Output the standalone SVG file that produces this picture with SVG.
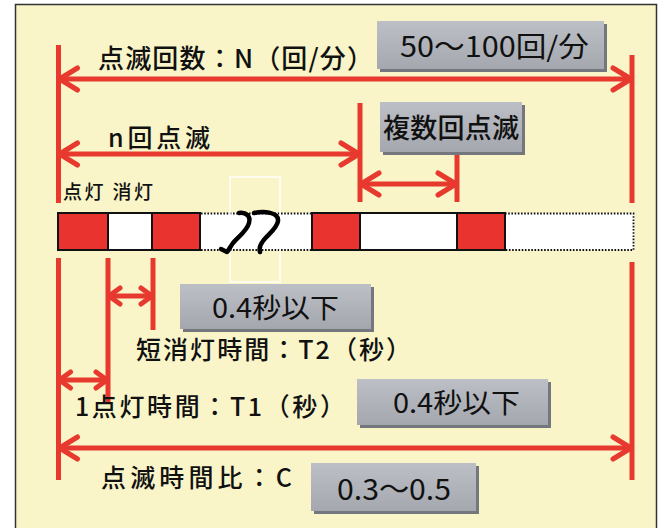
<svg xmlns="http://www.w3.org/2000/svg" width="661" height="528" viewBox="0 0 661 528">
<style>
.t{font-family:"Noto Sans CJK JP","Noto Sans",sans-serif;fill:#111;font-weight:500}
.bt{font-family:"Noto Sans CJK JP","Noto Sans",sans-serif;fill:#111;font-weight:400}
.red{stroke:#e8392f;stroke-width:5;fill:none}
.bx{fill:url(#gb)}
.sh{fill:#74777e}
.seg{stroke:#111;stroke-width:2}
.dot{stroke:#111;stroke-width:1.8;stroke-dasharray:1.6 1.6;fill:none}
.sq{fill:none;stroke:#000;stroke-width:4.5;stroke-linecap:round;stroke-linejoin:round}
</style>
<defs>
<linearGradient id="gb" x1="0" y1="0" x2="0" y2="1">
<stop offset="0" stop-color="#bcbfc5"/>
<stop offset="1" stop-color="#a4a7ae"/>
</linearGradient>
<marker id="ah" viewBox="-24 -14 26 28" refX="0" refY="0" markerWidth="26" markerHeight="28" markerUnits="userSpaceOnUse" orient="auto-start-reverse">
<path d="M-19,-11 L-1,0 L-19,11" fill="none" stroke="#e8392f" stroke-width="5" stroke-linecap="round" stroke-linejoin="round"/>
</marker>
<marker id="ahs" viewBox="-16 -11 18 22" refX="0" refY="0" markerWidth="18" markerHeight="22" markerUnits="userSpaceOnUse" orient="auto-start-reverse">
<path d="M-12,-8 L-1,0 L-12,8" fill="none" stroke="#e8392f" stroke-width="5" stroke-linecap="round" stroke-linejoin="round"/>
</marker>
</defs>
<rect x="0" y="0" width="661" height="528" fill="#ffffff"/>
<rect x="15.5" y="4.5" width="641" height="540" fill="#f9f5c9" stroke="#333" stroke-width="1.5"/>

<g id="bar">
<rect x="201" y="213" width="111" height="37" fill="#fff"/>
<path class="dot" d="M201,213.5 H312 M201,250 H312"/>
<rect x="505" y="213" width="129" height="37" fill="#fff"/>
<path class="dot" d="M505,213.5 H633.5 V250 H505"/>
<rect class="seg" x="58" y="213" width="50" height="37" fill="#e8332f"/>
<rect class="seg" x="108" y="213" width="44" height="37" fill="#fff"/>
<rect class="seg" x="152" y="213" width="48" height="37" fill="#e8332f"/>
<rect class="seg" x="312" y="213" width="48" height="37" fill="#e8332f"/>
<rect class="seg" x="360" y="213" width="97" height="37" fill="#fff"/>
<rect class="seg" x="457" y="213" width="48" height="37" fill="#e8332f"/>
<rect x="230" y="177" width="50" height="105" fill="none" stroke="#ffffff" stroke-width="1.5" opacity="0.9"/>
<path class="sq" d="M239,213 C246,212 251,216 249,223 C247,231 238,237 233,243 C230,247 229,250 227,252 C225,251 223,250 221,249"/>
<path class="sq" d="M254,213 C264,211 279,212 278,221 C277,229 267,235 263,241 C260,245 259,249 260,252"/>
</g>

<g id="connectors">
<path class="red" d="M58.5,45 V203 M58.5,258 V480"/>
<path class="red" d="M632,55 V203 M632,262 V480"/>
<path class="red" d="M360,103 V202"/>
<path class="red" d="M457,153 V202"/>
<path class="red" d="M108,258 V404"/>
<path class="red" d="M153,258 V330"/>
<line class="red" x1="58.5" y1="79" x2="632" y2="79" marker-start="url(#ah)" marker-end="url(#ah)"/>
<line class="red" x1="58.5" y1="154" x2="360" y2="154" marker-start="url(#ah)" marker-end="url(#ah)"/>
<line class="red" x1="360" y1="184" x2="457" y2="184" marker-start="url(#ah)" marker-end="url(#ah)"/>
<line class="red" x1="108" y1="296" x2="153" y2="296" marker-start="url(#ahs)" marker-end="url(#ahs)"/>
<line class="red" x1="58.5" y1="380" x2="108" y2="380" marker-start="url(#ahs)" marker-end="url(#ahs)"/>
<line class="red" x1="58.5" y1="448" x2="632" y2="448" marker-start="url(#ah)" marker-end="url(#ah)"/>
</g>

<g id="label-n-total">
<text class="t" x="98" y="68" font-size="26" textLength="275" lengthAdjust="spacing">点滅回数：N（回/分）</text>
</g>
<g id="box-rate">
<rect class="sh" x="380" y="24" width="227" height="48"/>
<rect class="bx" x="377" y="21" width="227" height="48"/>
<text class="bt" x="400" y="57" font-size="28" textLength="189" lengthAdjust="spacingAndGlyphs">50～100回/分</text>
</g>
<g id="label-n">
<text class="t" x="108" y="147" font-size="25" textLength="102" lengthAdjust="spacing">n回点滅</text>
</g>
<g id="box-multi">
<rect class="sh" x="383" y="105" width="142" height="50"/>
<rect class="bx" x="380" y="102" width="142" height="50"/>
<text class="t" x="383" y="138" font-size="27" textLength="136" lengthAdjust="spacing">複数回点滅</text>
</g>
<g id="label-onoff">
<text class="t" x="63" y="199" font-size="19" textLength="90" lengthAdjust="spacing">点灯 消灯</text>
</g>
<g id="box-t2">
<rect class="sh" x="183" y="287" width="191" height="45"/>
<rect class="bx" x="180" y="284" width="191" height="45"/>
<text class="bt" x="212" y="318" font-size="27" textLength="127" lengthAdjust="spacingAndGlyphs">0.4秒以下</text>
</g>
<g id="label-t2">
<text class="t" x="136" y="359" font-size="25" textLength="275" lengthAdjust="spacing">短消灯時間：T2（秒）</text>
</g>
<g id="label-t1">
<text class="t" x="75" y="416" font-size="25" textLength="270" lengthAdjust="spacing">1点灯時間：T1（秒）</text>
</g>
<g id="box-t1">
<rect class="sh" x="360" y="382" width="191" height="46"/>
<rect class="bx" x="357" y="379" width="191" height="46"/>
<text class="bt" x="393" y="413" font-size="27" textLength="127" lengthAdjust="spacingAndGlyphs">0.4秒以下</text>
</g>
<g id="label-c">
<text class="t" x="101" y="487" font-size="25" textLength="191" lengthAdjust="spacing">点滅時間比：C</text>
</g>
<g id="box-c">
<rect class="sh" x="314" y="466" width="165" height="48"/>
<rect class="bx" x="311" y="463" width="165" height="48"/>
<text class="bt" x="337" y="500" font-size="29" textLength="114" lengthAdjust="spacingAndGlyphs">0.3～0.5</text>
</g>
</svg>
